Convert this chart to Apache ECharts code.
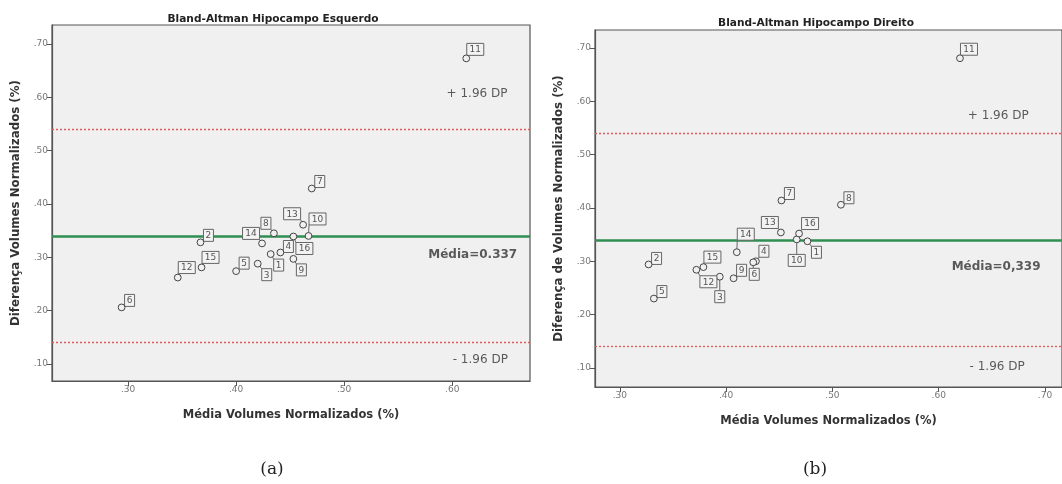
<!DOCTYPE html>
<html>
<head>
<meta charset="utf-8">
<script src="https://cdn.jsdelivr.net/npm/echarts@6/dist/echarts.min.js"></script>
<style>
  html, body { margin: 0; padding: 0; background: #ffffff; }
  #chart { width: 1062px; height: 484px; }
</style>
</head>
<body>
<div id="chart"></div>
<script>
// Bland-Altman: mean of the two normalized volumes (x) against their difference (y)
const subjectIds = [1, 2, 3, 4, 5, 6, 7, 8, 9, 10, 11, 12, 13, 14, 15, 16];

// Left hippocampus
const leftMean = [0.432, 0.367, 0.420, 0.441, 0.400, 0.294, 0.470, 0.435, 0.453, 0.467, 0.613, 0.346, 0.462, 0.424, 0.368, 0.453];
const leftDiff = [0.306, 0.328, 0.288, 0.309, 0.274, 0.206, 0.429, 0.345, 0.297, 0.340, 0.673, 0.262, 0.361, 0.326, 0.281, 0.339];
const leftAvgDiff = 0.337;
const leftUpper = 0.537;
const leftLower = 0.137;

// Right hippocampus
const rightMean = [0.4765, 0.327, 0.394, 0.428, 0.332, 0.4255, 0.452, 0.508, 0.407, 0.4664, 0.620, 0.372, 0.4515, 0.410, 0.3786, 0.4686];
const rightDiff = [0.3375, 0.294, 0.271, 0.300, 0.230, 0.298, 0.414, 0.406, 0.268, 0.341, 0.681, 0.284, 0.354, 0.317, 0.289, 0.352];
const rightAvgDiff = 0.339;
const rightUpper = 0.541;
const rightLower = 0.137;

// Tick labels
const yTicks = [0.1, 0.2, 0.3, 0.4, 0.5, 0.6, 0.7];
const xTicksLeft = [0.3, 0.4, 0.5, 0.6];
const xTicksRight = [0.3, 0.4, 0.5, 0.6, 0.7];

// Where each subject's id box sits relative to its point, in pixels
const leftBoxOffset = {
  1: [8, 11], 2: [8, -7], 3: [9, 11], 4: [8, -6], 5: [8, -8], 6: [8, -7], 7: [8, -7], 8: [-8, -10],
  9: [8, 11], 10: [9, -17], 11: [9, -9], 12: [9, -10], 13: [-11, -11], 14: [-11, -10], 15: [9, -10], 16: [11, 12]
};
const rightBoxOffset = {
  1: [9, 11], 2: [8, -6], 3: [0, 20], 4: [8, -10], 5: [8, -7], 6: [1, 12], 7: [8, -7], 8: [8, -7],
  9: [8, -8], 10: [0, 21], 11: [9, -9], 12: [12, 12], 13: [-11, -10], 14: [9, -18], 15: [9, -10], 16: [11, -10]
};

const FONT = 'DejaVu Sans';
const tickFmt = v => v.toFixed(2).replace(/^0/, '');

function points(means, diffs) {
  return subjectIds.map((id, i) => [means[i], diffs[i], id]);
}

// Hollow circle with a boxed id label joined by a short leader
function pointRenderer(offsets) {
  return function (params, api) {
    const id = api.value(2);
    const p = api.coord([api.value(0), api.value(1)]);
    const off = offsets[id];
    const txt = String(id);
    const w = txt.length > 1 ? 17 : 10;
    const h = 12;
    const cx = p[0] + off[0], cy = p[1] + off[1];
    const bx = cx - w / 2, by = cy - h / 2;
    const nx = Math.min(Math.max(p[0], bx), bx + w);
    const ny = Math.min(Math.max(p[1], by), by + h);
    return {
      type: 'group',
      children: [
        { type: 'line', shape: { x1: p[0], y1: p[1], x2: nx, y2: ny }, style: { stroke: '#666', lineWidth: 1 } },
        { type: 'rect', shape: { x: bx, y: by, width: w, height: h }, style: { fill: '#f3f3f3', stroke: '#666', lineWidth: 1 } },
        { type: 'text', style: { text: txt, x: cx, y: cy + 0.5, align: 'center', verticalAlign: 'middle', fontSize: 9, fill: '#555', fontFamily: FONT } },
        { type: 'circle', shape: { cx: p[0], cy: p[1], r: 3.4 }, style: { fill: '#f0f0f0', stroke: '#444', lineWidth: 1 } }
      ]
    };
  };
}

// Mean line and the ±1.96 SD limits of agreement
function refLines(mean, upper, lower) {
  const limit = () => ({ color: '#e35a5a', width: 1.3, type: [2, 2], opacity: 1 });
  return {
    silent: true,
    symbol: ['none', 'none'],
    label: { show: false },
    lineStyle: limit(),
    data: [
      { yAxis: upper, lineStyle: limit() },
      { yAxis: lower, lineStyle: limit() },
      { yAxis: mean, lineStyle: { color: '#2f8f52', width: 2.6, type: 'solid', opacity: 1 } }
    ]
  };
}

function notes(items) {
  return {
    type: 'scatter',
    xAxisIndex: items.axis, yAxisIndex: items.axis,
    symbolSize: 1,
    itemStyle: { color: 'transparent' },
    silent: true,
    z: 5,
    label: { show: true, position: 'inside', formatter: '{b}', fontFamily: FONT, fontSize: 12, color: '#333' },
    data: items.data
  };
}

function xAxisCfg(idx, min, max, ticks) {
  return {
    type: 'value', gridIndex: idx, min: min, max: max,
    name: 'Média Volumes Normalizados (%)',
    nameLocation: 'middle', nameGap: 28,
    nameTextStyle: { fontFamily: FONT, fontWeight: 'bold', fontSize: 11.5, color: '#333' },
    splitLine: { show: false },
    axisLine: { show: true, onZero: false, lineStyle: { color: '#555', width: 1.2 } },
    axisTick: { show: true, length: 5, customValues: ticks, lineStyle: { color: '#555' } },
    axisLabel: { customValues: ticks, formatter: tickFmt, fontFamily: FONT, fontSize: 9, color: '#777', margin: 4 }
  };
}

function yAxisCfg(idx, min, max, title) {
  return {
    type: 'value', gridIndex: idx, min: min, max: max,
    name: title,
    nameLocation: 'middle', nameGap: 30,
    nameTextStyle: { fontFamily: FONT, fontWeight: 'bold', fontSize: 11.8, color: '#333' },
    splitLine: { show: false },
    axisLine: { show: true, onZero: false, lineStyle: { color: '#555', width: 1.2 } },
    axisTick: { show: true, length: 5, customValues: yTicks, lineStyle: { color: '#555' } },
    axisLabel: { customValues: yTicks, formatter: tickFmt, fontFamily: FONT, fontSize: 9, color: '#777', margin: 4 }
  };
}

const chart = echarts.init(document.getElementById('chart'), null, { renderer: 'canvas' });

chart.setOption({
  animation: false,
  backgroundColor: '#ffffff',
  title: [
    { text: 'Bland-Altman Hipocampo Esquerdo', left: 268, top: 9, textAlign: 'center',
      textStyle: { fontFamily: FONT, fontWeight: 'bold', fontSize: 10.6, color: '#222' } },
    { text: 'Bland-Altman Hipocampo Direito', left: 811, top: 13, textAlign: 'center',
      textStyle: { fontFamily: FONT, fontWeight: 'bold', fontSize: 10.6, color: '#222' } },
    { text: '(a)', left: 267, top: 456, textAlign: 'center',
      textStyle: { fontFamily: 'DejaVu Serif', fontWeight: 'normal', fontSize: 17, color: '#222' } },
    { text: '(b)', left: 810, top: 456, textAlign: 'center',
      textStyle: { fontFamily: 'DejaVu Serif', fontWeight: 'normal', fontSize: 17, color: '#222' } }
  ],
  grid: [
    { left: 52, top: 25, width: 478, height: 356, show: true, backgroundColor: '#f0f0f0', borderColor: '#555', borderWidth: 1.2 },
    { left: 595, top: 30, width: 470, height: 357, show: true, backgroundColor: '#f0f0f0', borderColor: '#555', borderWidth: 1.2 }
  ],
  xAxis: [
    xAxisCfg(0, 0.2296, 0.672, xTicksLeft),
    xAxisCfg(1, 0.2766, 0.716, xTicksRight)
  ],
  yAxis: [
    yAxisCfg(0, 0.068, 0.7356, 'Diferença Volumes Normalizados (%)'),
    yAxisCfg(1, 0.064, 0.734, 'Diferença de Volumes Normalizados (%)')
  ],
  series: [
    { type: 'scatter', xAxisIndex: 0, yAxisIndex: 0, data: [], markLine: refLines(leftAvgDiff, leftUpper, leftLower) },
    { type: 'scatter', xAxisIndex: 1, yAxisIndex: 1, data: [], markLine: refLines(rightAvgDiff, rightUpper, rightLower) },
    { type: 'custom', xAxisIndex: 0, yAxisIndex: 0, z: 10, renderItem: pointRenderer(leftBoxOffset),
      encode: { x: 0, y: 1 }, data: points(leftMean, leftDiff) },
    { type: 'custom', xAxisIndex: 1, yAxisIndex: 1, z: 10, renderItem: pointRenderer(rightBoxOffset),
      encode: { x: 0, y: 1 }, data: points(rightMean, rightDiff) },
    notes({ axis: 0, data: [
      { name: '+ 1.96 DP', value: [0.623, 0.606] },
      { name: '- 1.96 DP', value: [0.626, 0.1075] },
      { name: 'Média=' + leftAvgDiff.toFixed(3), value: [0.619, 0.304], label: { fontWeight: 'bold' } }
    ] }),
    notes({ axis: 1, data: [
      { name: '+ 1.96 DP', value: [0.656, 0.572] },
      { name: '- 1.96 DP', value: [0.655, 0.102] },
      { name: 'Média=' + rightAvgDiff.toFixed(3).replace('.', ','), value: [0.654, 0.290], label: { fontWeight: 'bold' } }
    ] })
  ]
});
</script>
</body>
</html>
